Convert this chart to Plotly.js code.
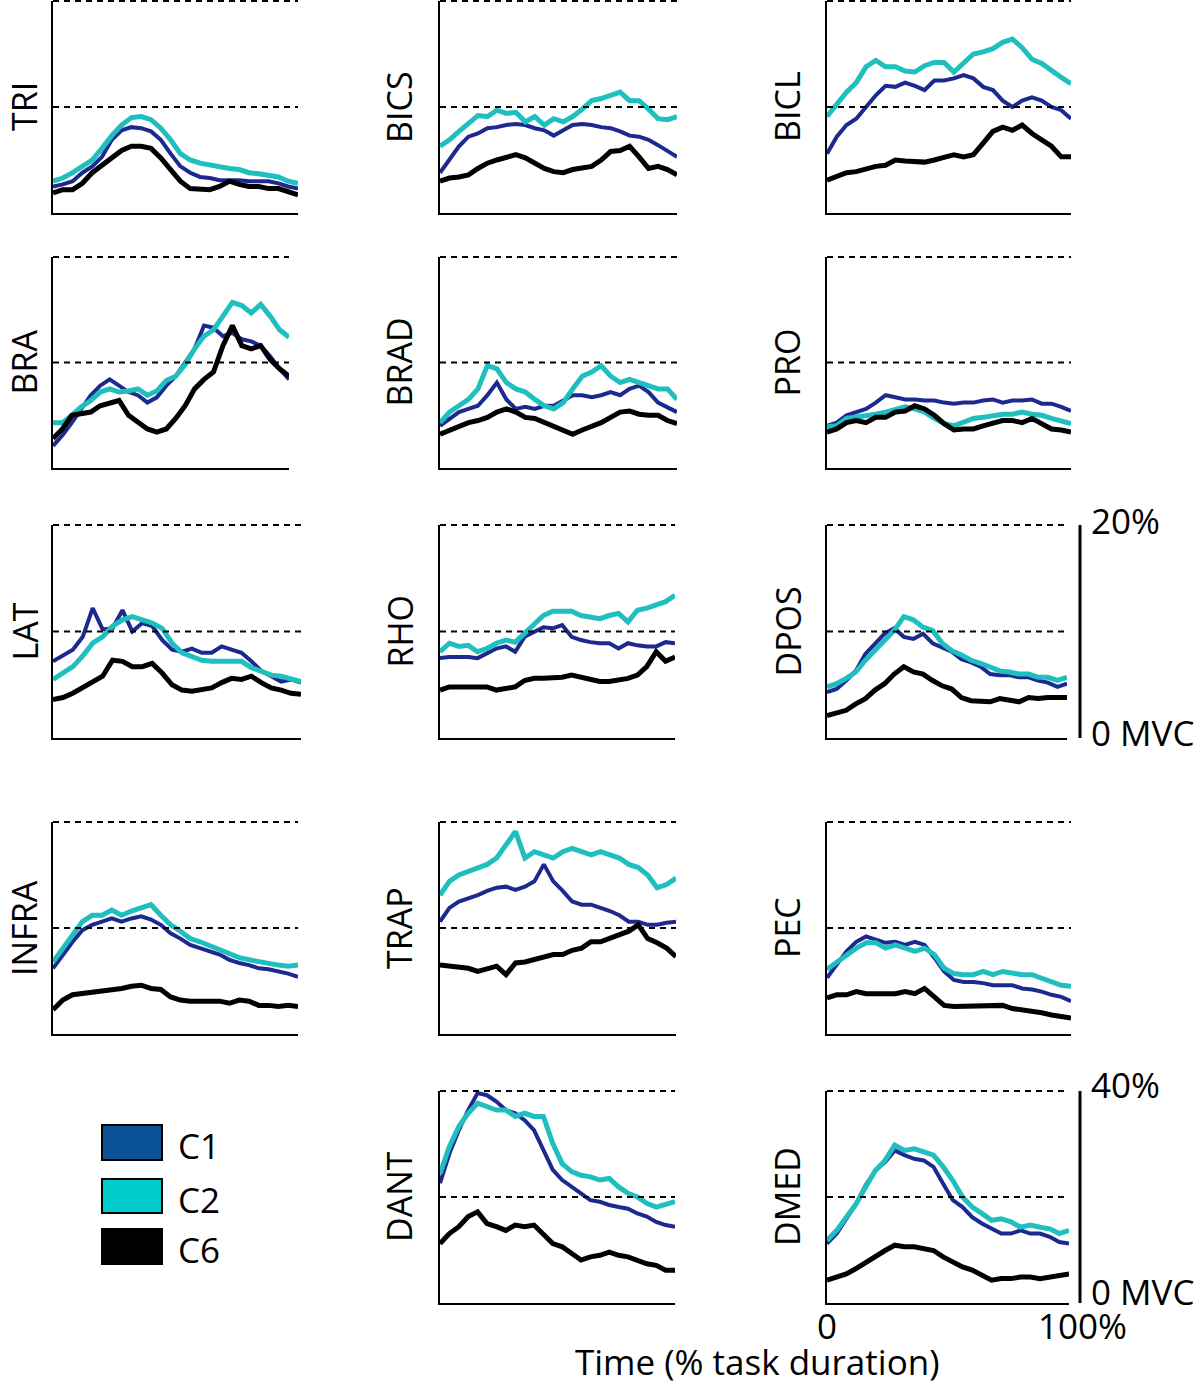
<!DOCTYPE html>
<html><head><meta charset="utf-8">
<script src="https://cdn.plot.ly/plotly-3.0.1.min.js"></script>
<style>html,body{margin:0;padding:0;background:#fff}</style>
</head><body><div id="chart" style="width:1200px;height:1385px"></div>
<script>
// time (% task duration)
const timePct = [0,4,8,12,16,20,24,28,32,36,40,44,48,52,56,60,64,68,72,76,80,84,88,92,96,100];

// EMG amplitude (% MVC) for conditions C1, C2, C6
const TRI_C1 = [2.5,2.7,3.0,3.8,4.4,5.3,6.9,7.8,8.1,8.0,7.7,6.9,5.6,4.4,3.8,3.4,3.3,3.1,3.1,3.1,3.0,3.0,3.0,2.8,2.5,2.3];
const TRI_C2 = [3.0,3.3,3.8,4.4,5.0,6.1,7.3,8.3,9.0,9.1,8.8,8.0,6.9,5.6,5.0,4.7,4.5,4.4,4.2,4.1,3.8,3.7,3.6,3.4,3.0,2.8];
const TRI_C6 = [1.9,2.2,2.2,2.8,3.8,4.5,5.3,5.9,6.3,6.3,6.1,5.2,4.1,3.0,2.3,2.2,2.2,2.5,3.0,2.7,2.5,2.5,2.3,2.3,2.0,1.7];

const BICS_C1 = [3.8,5.0,6.3,7.2,7.5,8.0,8.1,8.3,8.4,8.3,8.0,7.8,7.3,7.8,8.3,8.4,8.3,8.1,8.0,7.7,7.3,7.2,6.9,6.4,5.8,5.3];
const BICS_C2 = [6.3,6.9,7.7,8.4,9.2,9.1,9.7,9.4,9.5,8.6,9.1,8.3,8.9,8.6,9.1,9.8,10.6,10.8,11.1,11.4,10.6,10.6,9.8,8.9,8.8,9.1];
const BICS_C6 = [3.0,3.3,3.4,3.6,4.2,4.7,5.0,5.3,5.5,5.2,4.7,4.2,3.9,3.8,4.1,4.2,4.4,5.0,5.8,5.9,6.3,5.3,4.2,4.4,4.1,3.6];

const BICL_C1 = [5.6,7.2,8.3,8.9,10.0,11.1,12.0,11.9,12.3,12.0,11.6,12.5,12.5,12.7,13.0,12.7,11.9,11.6,10.6,10.0,10.6,10.9,10.6,10.0,9.7,8.9];
const BICL_C2 = [9.1,10.3,11.4,12.3,13.8,14.4,13.8,13.8,13.4,13.3,13.9,14.2,14.2,13.3,14.1,15.0,15.2,15.5,16.1,16.4,15.6,14.5,14.1,13.4,12.8,12.2];
const BICL_C6 = [3.1,3.4,3.8,3.9,4.2,4.4,4.5,5.0,4.9,4.8,4.8,5.0,5.2,5.5,5.3,5.5,6.6,7.7,8.1,7.8,8.3,7.5,6.9,6.3,5.3,5.3];

const BRA_C1 = [2.1,3.1,4.3,5.6,6.9,7.8,8.4,7.8,7.2,6.9,6.2,6.7,7.8,8.7,10.0,11.3,13.5,13.3,12.5,12.8,12.2,12.0,11.6,10.6,9.4,8.4];
const BRA_C2 = [4.3,4.3,5.0,5.8,6.4,7.2,7.5,7.2,7.3,7.5,6.9,7.3,8.3,8.7,9.8,11.3,12.5,13.1,14.4,15.7,15.4,14.7,15.5,14.4,13.1,12.4];
const BRA_C6 = [2.8,3.7,5.0,5.1,5.3,5.9,6.2,6.4,5.0,4.3,3.7,3.4,3.7,4.7,5.9,7.5,8.4,9.1,11.6,13.5,11.6,11.3,11.6,10.3,9.4,8.7];

const BRAD_C1 = [4.0,4.7,5.3,5.6,5.9,6.9,8.1,6.5,5.6,5.8,5.6,5.9,5.9,6.4,6.9,6.9,6.7,6.9,7.2,6.9,7.5,7.8,7.2,6.2,5.8,5.3];
const BRAD_C2 = [4.3,5.3,5.9,6.5,7.5,9.7,9.4,8.1,7.5,7.2,6.5,5.9,5.6,6.2,7.5,8.7,9.1,9.7,8.7,8.1,8.4,8.1,7.8,7.5,7.5,6.5];
const BRAD_C6 = [3.2,3.6,4.0,4.3,4.5,4.8,5.3,5.6,5.3,4.8,4.7,4.3,3.9,3.6,3.2,3.6,3.9,4.3,4.8,5.3,5.4,5.1,5.0,5.0,4.5,4.2];

const PRO_C1 = [4.0,4.3,5.0,5.3,5.6,6.2,6.9,6.7,6.5,6.5,6.4,6.4,6.2,6.1,6.2,6.2,6.4,6.5,6.2,6.4,6.4,6.5,6.1,6.1,5.8,5.4];
const PRO_C2 = [3.9,4.0,4.7,4.8,5.0,5.1,5.3,5.6,5.8,5.6,5.3,4.7,4.2,4.0,4.3,4.7,4.8,5.0,5.1,5.1,5.3,5.1,5.0,4.7,4.5,4.2];
const PRO_C6 = [3.4,3.7,4.3,4.5,4.3,4.8,4.8,5.3,5.4,5.9,5.6,5.0,4.2,3.6,3.7,3.7,4.0,4.3,4.5,4.5,4.3,4.7,4.2,3.7,3.6,3.4];

const LAT_C1 = [7.2,7.7,8.3,9.5,12.2,10.2,10.3,12.0,10.0,10.8,10.5,9.2,8.3,8.1,8.4,8.0,8.0,8.6,8.3,8.0,7.2,6.3,5.8,5.3,5.5,5.2];
const LAT_C2 = [5.5,6.1,6.7,7.7,8.9,9.5,10.5,11.1,11.4,11.1,10.8,10.3,8.9,8.0,7.7,7.3,7.2,7.2,7.3,7.2,6.6,6.3,5.9,5.8,5.6,5.3];
const LAT_C6 = [3.6,3.8,4.2,4.7,5.2,5.8,7.3,7.2,6.7,6.7,7.0,6.1,5.0,4.5,4.4,4.5,4.7,5.2,5.6,5.5,5.8,5.2,4.7,4.5,4.2,4.1];

const RHO_C1 = [7.5,7.6,7.6,7.6,7.5,7.9,8.4,8.6,8.1,9.5,10.0,10.4,10.3,10.6,9.5,9.2,9.0,8.9,8.9,8.4,8.9,8.7,8.6,8.6,9.0,8.9];
const RHO_C2 = [8.1,8.9,8.6,8.7,8.1,8.4,8.9,9.2,9.0,9.8,10.6,11.5,11.9,11.9,11.9,11.5,11.4,11.2,11.5,11.7,10.9,12.0,12.2,12.5,12.8,13.4];
const RHO_C6 = [4.5,4.8,4.8,4.8,4.8,4.8,4.5,4.6,4.8,5.4,5.6,5.6,5.6,5.7,5.9,5.7,5.4,5.3,5.3,5.4,5.6,5.9,6.7,8.1,7.2,7.6];

const DPOS_C1 = [4.3,4.6,5.4,6.3,7.9,8.9,9.8,10.3,9.5,9.3,9.8,8.9,8.5,8.1,7.4,7.1,6.7,6.0,5.9,5.9,5.7,5.7,5.4,5.2,4.8,5.1];
const DPOS_C2 = [4.8,5.1,5.6,6.2,7.3,8.2,9.2,10.1,11.4,11.1,10.4,10.1,8.9,8.2,7.8,7.3,7.0,6.7,6.3,6.2,6.0,6.0,5.7,5.7,5.4,5.7];
const DPOS_C6 = [2.1,2.4,2.6,3.2,3.7,4.5,5.1,6.0,6.7,6.2,6.0,5.4,4.9,4.6,3.8,3.5,3.5,3.4,3.7,3.5,3.4,3.8,3.7,3.8,3.8,3.8];

const INFRA_C1 = [6.2,7.5,8.7,9.8,10.3,10.6,10.9,10.6,10.9,11.1,10.8,10.3,9.5,9.0,8.4,8.1,7.8,7.5,7.0,6.7,6.5,6.2,6.1,5.9,5.7,5.4];
const INFRA_C2 = [6.8,8.1,9.4,10.6,11.2,11.2,11.7,11.2,11.6,11.9,12.2,11.2,10.3,9.7,9.0,8.7,8.3,7.9,7.5,7.2,7.0,6.8,6.7,6.5,6.4,6.5];
const INFRA_C6 = [2.3,3.2,3.7,3.8,4.0,4.0,4.2,4.3,4.5,4.6,4.3,4.2,3.5,3.2,3.1,3.1,3.1,3.1,2.9,3.2,3.1,2.7,2.7,2.6,2.7,2.6];

const TRAP_C1 = [10.6,11.9,12.5,12.8,13.1,13.5,13.8,13.9,13.6,13.9,14.4,16.0,14.4,13.5,12.5,12.2,12.2,11.9,11.6,11.2,10.6,10.6,10.3,10.3,10.5,10.6];
const TRAP_C2 = [13.1,14.4,15.0,15.3,15.7,16.0,16.6,17.9,19.1,16.6,17.2,16.9,16.6,17.2,17.5,17.2,16.9,17.2,16.9,16.6,16.0,15.7,15.0,13.8,14.1,14.7];
const TRAP_C6 = [6.5,6.4,6.4,6.2,5.9,6.2,6.4,5.6,6.7,6.8,7.0,7.2,7.5,7.5,7.9,8.1,8.7,8.7,9.0,9.4,9.7,10.3,9.0,8.6,8.1,7.3];

const PEC_C1 = [5.3,6.5,7.8,8.7,9.2,8.9,8.6,8.7,8.4,8.7,8.4,7.2,5.9,5.1,4.9,4.9,4.8,4.6,4.6,4.6,4.3,4.2,4.0,3.7,3.5,3.1];
const PEC_C2 = [6.1,6.8,7.5,8.1,8.6,8.6,8.1,8.4,8.1,7.8,8.1,7.5,6.2,5.7,5.6,5.6,5.9,5.6,5.9,5.7,5.6,5.6,5.3,4.9,4.6,4.5];
const PEC_C6 = [3.4,3.7,3.7,4.0,3.8,3.8,3.8,3.8,4.0,3.8,4.3,3.5,2.7,2.6,2.6,2.7,2.7,2.7,2.7,2.4,2.3,2.1,2.0,1.8,1.6,1.5];

const DANT_C1 = [22.6,28.2,32.6,36.4,39.6,39.2,38.0,36.4,35.8,34.5,32.6,28.9,25.1,23.2,21.9,20.7,19.4,19.1,18.5,18.1,17.8,16.9,16.3,15.3,14.7,14.4];
const DANT_C2 = [24.4,29.5,33.3,35.8,37.7,37.0,36.4,36.4,35.2,35.8,35.2,35.2,30.1,26.3,24.8,24.1,23.8,23.2,23.5,21.9,20.7,20.0,18.8,18.1,18.5,19.1];
const DANT_C6 = [11.2,13.1,14.4,16.3,17.2,15.0,14.4,13.7,14.7,14.4,14.7,13.1,11.2,10.6,9.3,8.1,8.7,9.0,9.6,9.0,8.7,8.1,7.4,7.1,6.2,6.2];

const DMED_C1 = [11.2,13.1,15.9,18.7,22.2,25.0,26.6,28.8,27.9,27.2,26.9,25.7,22.5,19.4,18.1,16.2,15.0,14.0,13.1,13.1,13.7,13.1,13.1,12.5,11.5,11.2];
const DMED_C2 = [11.8,13.7,16.2,18.7,21.9,25.0,26.9,29.8,28.8,29.1,28.5,27.9,25.7,23.1,20.0,18.1,16.9,15.6,15.9,15.3,14.3,14.7,14.3,14.0,13.1,13.7];
const DMED_C6 = [4.3,4.9,5.5,6.5,7.7,8.7,9.9,10.9,10.6,10.6,10.3,9.9,8.7,7.7,6.8,6.2,5.2,4.3,4.6,4.6,4.9,4.9,4.6,4.9,5.2,5.5];

const muscles = ['TRI','BICS','BICL','BRA','BRAD','PRO','LAT','RHO','DPOS','INFRA','TRAP','PEC','DANT','DMED'];
const conditions = ['C1','C2','C6'];
const muscleData = {
  TRI:[TRI_C1,TRI_C2,TRI_C6], BICS:[BICS_C1,BICS_C2,BICS_C6], BICL:[BICL_C1,BICL_C2,BICL_C6],
  BRA:[BRA_C1,BRA_C2,BRA_C6], BRAD:[BRAD_C1,BRAD_C2,BRAD_C6], PRO:[PRO_C1,PRO_C2,PRO_C6],
  LAT:[LAT_C1,LAT_C2,LAT_C6], RHO:[RHO_C1,RHO_C2,RHO_C6], DPOS:[DPOS_C1,DPOS_C2,DPOS_C6],
  INFRA:[INFRA_C1,INFRA_C2,INFRA_C6], TRAP:[TRAP_C1,TRAP_C2,TRAP_C6], PEC:[PEC_C1,PEC_C2,PEC_C6],
  DANT:[DANT_C1,DANT_C2,DANT_C6], DMED:[DMED_C1,DMED_C2,DMED_C6]
};
const yMaxRow = [20,20,20,20,40];
const scaleLabels = ['20%','40%','0 MVC'];
const timeLabels = ['0','100%'];
const timeTitle = 'Time (% task duration)';

// ----- layout (pixel geometry) -----
const W = 1200, H = 1385;
const lineColors = ['#1c2a90','#1fbfc0','#000000'];
const lineWidths = [4,5,5];
const legendFill = ['#0a5196','#00cccc','#000000'];
// [left, right, top, bottom, row, labelX]
const boxes = {
  TRI:[53,298,1,213,0,24], BICS:[440,677,1,213,0,399], BICL:[827,1071,1,213,0,787],
  BRA:[53,289,257,468,1,24], BRAD:[440,677,257,468,1,399], PRO:[827,1071,257,468,1,787],
  LAT:[53,301,525,738,2,24], RHO:[440,675,525,738,2,399], DPOS:[827,1067,525,738,2,787],
  INFRA:[53,298,822,1034,3,24], TRAP:[440,676,822,1034,3,399], PEC:[827,1071,822,1034,3,787],
  DANT:[440,675,1091,1303,4,399], DMED:[827,1069,1091,1303,4,787]
};
const px = v => v / W;
const py = v => (H - v) / H;
const FONT = {family:'"Open Sans", sans-serif', size:35, color:'#000'};
const LFONT = {family:'"Open Sans", sans-serif', size:34, color:'#000'};

const traces = [];
const layout = {
  width: W, height: H, margin:{l:0,r:0,t:0,b:0},
  paper_bgcolor:'#fff', plot_bgcolor:'rgba(0,0,0,0)', showlegend:false,
  shapes:[], annotations:[]
};

muscles.forEach((m, i) => {
  const s = i === 0 ? '' : String(i + 1);
  const [l, r, t, b, row, lx] = boxes[m];
  const ymax = yMaxRow[row];
  layout['xaxis' + s] = {domain:[px(l), px(r)], range:[0,100], anchor:'y' + s,
    showline:true, linecolor:'#000', linewidth:2, showticklabels:false, ticks:'',
    showgrid:false, zeroline:false, fixedrange:true};
  layout['yaxis' + s] = {domain:[py(b), py(t)], range:[0,ymax], anchor:'x' + s,
    showline:true, linecolor:'#000', linewidth:2, showticklabels:false, ticks:'',
    showgrid:false, zeroline:false, fixedrange:true};
  [0.5, 1].forEach(f => layout.shapes.push({type:'line', xref:'x' + s + ' domain', yref:'y' + s + ' domain',
    x0:0, x1:1, y0:f, y1:f, line:{color:'#000', width:2, dash:'6px,5px'}}));
  muscleData[m].forEach((vals, k) => traces.push({
    type:'scatter', mode:'lines', x:timePct, y:vals, name:conditions[k],
    xaxis:'x' + s, yaxis:'y' + s, line:{color:lineColors[k], width:lineWidths[k]},
    hoverinfo:'skip'
  }));
  layout.annotations.push({text:m, textangle:-90, xref:'paper', yref:'paper',
    x:px(lx), y:py((t + b) / 2), xanchor:'center', yanchor:'middle', showarrow:false,
    borderpad:0, font:LFONT});
});

// scale bars
[[525,738],[1091,1303]].forEach(([a, b2]) => layout.shapes.push({type:'line', xref:'paper', yref:'paper',
  x0:px(1080), x1:px(1080), y0:py(a), y1:py(b2), line:{color:'#000', width:3}}));
const ann = (text, x, y, xa) => layout.annotations.push({text, xref:'paper', yref:'paper', x:px(x), y:py(y),
  xanchor:xa, yanchor:'middle', showarrow:false, borderpad:0, font:FONT});
ann(scaleLabels[0], 1090, 520, 'left');
ann(scaleLabels[2], 1090, 732, 'left');
ann(scaleLabels[1], 1090, 1084, 'left');
ann(scaleLabels[2], 1090, 1291, 'left');
ann(timeLabels[0], 827, 1325, 'center');
ann(timeLabels[1], 1082, 1325, 'center');
ann(timeTitle, 757, 1361, 'center');

// legend
const legY = [[1125,1160],[1179,1213],[1229,1264]];
conditions.forEach((c, k) => {
  layout.shapes.push({type:'rect', xref:'paper', yref:'paper', x0:px(102), x1:px(162),
    y0:py(legY[k][1]), y1:py(legY[k][0]), fillcolor:legendFill[k], line:{color:'#000', width:2}});
  ann(c, 177, (legY[k][0] + legY[k][1]) / 2 + 3, 'left');
});

Plotly.newPlot('chart', traces, layout, {displayModeBar:false, staticPlot:true});
</script></body></html>
